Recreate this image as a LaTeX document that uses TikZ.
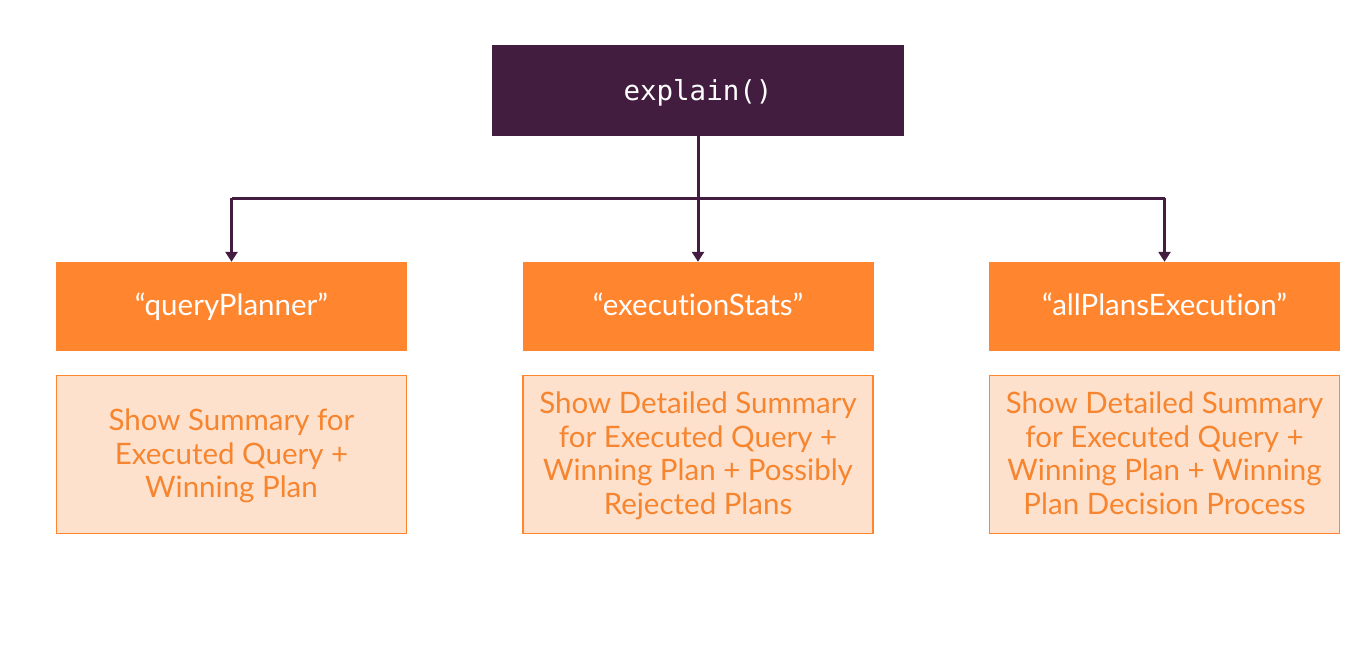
\documentclass[tikz,border=0pt]{standalone}
\usepackage{fontspec}
\setmainfont{Lato}[Ligatures={NoCommon,NoRare}]
\setmonofont{DejaVu Sans Mono}
\usetikzlibrary{arrows.meta}
\definecolor{plum}{HTML}{421D3F}
\definecolor{orng}{HTML}{FF862E}
\definecolor{peach}{HTML}{FDE1CC}
\definecolor{txtor}{HTML}{F7852F}
\newcommand{\desctext}[1]{\raisebox{-3pt}[\height][\depth]{\begin{tabular}{@{}c@{}}#1\end{tabular}}}
\begin{document}
\begin{tikzpicture}[x=1pt,y=-1pt,
  headbox/.style={fill=plum,draw=none,minimum width=412pt,minimum height=91pt,inner sep=0pt,text height=19pt,text depth=0pt,text=white,font=\ttfamily\fontsize{27.5}{30}\selectfont},
  modebox/.style={fill=orng,draw=none,minimum width=351pt,minimum height=89pt,inner sep=0pt,text height=18pt,text depth=0pt,text=white,font=\fontsize{29.5}{33}\selectfont},
  descbox/.style={fill=peach,draw=orng,line width=1.5pt,minimum width=350pt,minimum height=158pt,inner sep=0pt,text=txtor,font=\fontsize{29.5}{33.5}\selectfont},
  conn/.style={draw=plum,line width=3pt,-{Triangle[length=10pt,width=12pt]}}]
\useasboundingbox (0,0) rectangle (1367,662);
\node[headbox] (root) at (698,90.5) {explain()};
\node[modebox] (qp) at (231.5,306.5) {“queryPlanner”};
\node[modebox] (es) at (698,306.5) {“executionStats”};
\node[modebox] (ap) at (1164.5,306.5) {“allPlansExecution”};
\node[descbox] (qpd) at (231.5,454.5) {\desctext{Show Summary for\\Executed Query +\\Winning Plan}};
\node[descbox] (esd) at (698,454.5) {\desctext{Show Detailed Summary\\for Executed Query +\\Winning Plan + Possibly\\Rejected Plans}};
\node[descbox] (apd) at (1164.5,454.5) {\desctext{Show Detailed Summary\\for Executed Query +\\Winning Plan + Winning\\Plan Decision Process}};
\coordinate (hl) at (qp.north |- 0,198);
\coordinate (hr) at (ap.north |- 0,198);
\draw[conn] (root.south) -- (es.north);
\draw[draw=plum,line width=3pt] (hl) -- (hr);
\draw[conn] (hl) -- (qp.north);
\draw[conn] (hr) -- (ap.north);
\end{tikzpicture}
\end{document}
